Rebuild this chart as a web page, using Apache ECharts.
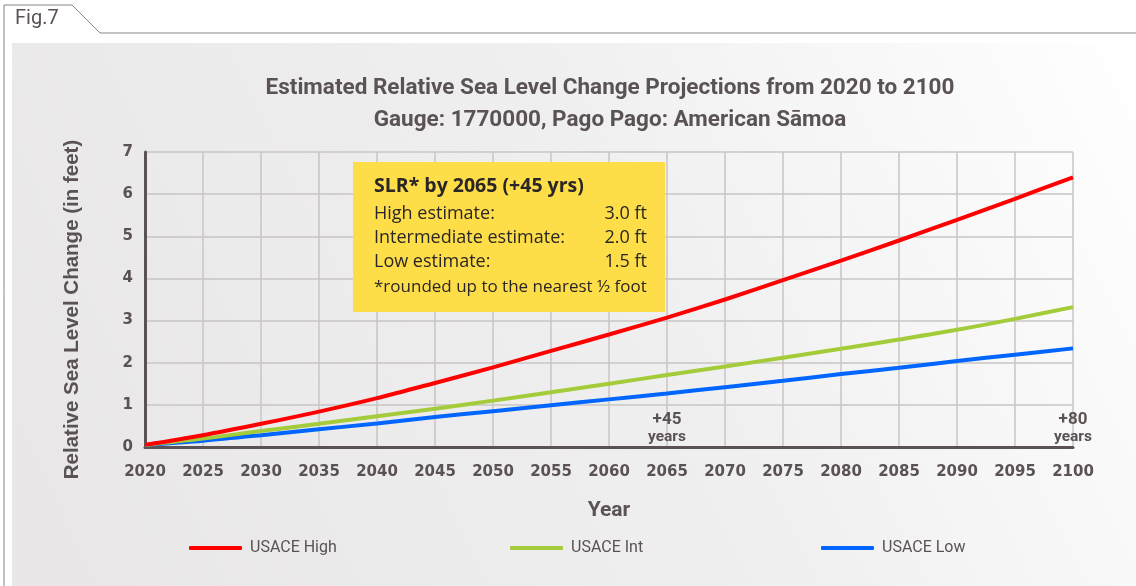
<!DOCTYPE html>
<html>
<head>
    <meta charset="UTF-8">
    <title>Sea Level Change Projections</title>
    <script src="https://cdn.jsdelivr.net/npm/echarts/dist/echarts.min.js"></script>
    <style>
        html, body { margin: 0; padding: 0; background: #fff; }
        #main { width: 1136px; height: 586px; }
    </style>
</head>
<body>
    <div id="main"></div>

    <script type="text/javascript">
        // years on the x axis
        const years = [2020, 2025, 2030, 2035, 2040, 2045, 2050, 2055, 2060,
                       2065, 2070, 2075, 2080, 2085, 2090, 2095, 2100];

        // values (feet)
        const usaceHigh = [0.05, 0.28, 0.55, 0.84, 1.16, 1.52, 1.89, 2.28, 2.67,
                           3.07, 3.5, 3.96, 4.42, 4.9, 5.39, 5.89, 6.4];
        const usaceInt  = [0.05, 0.2, 0.38, 0.55, 0.73, 0.91, 1.1, 1.3, 1.5,
                           1.71, 1.91, 2.12, 2.33, 2.55, 2.78, 3.04, 3.32];
        const usaceLow  = [0.05, 0.15, 0.28, 0.42, 0.56, 0.71, 0.85, 0.99, 1.13,
                           1.27, 1.42, 1.57, 1.73, 1.88, 2.04, 2.19, 2.34];

        const seriesNames = ['USACE High', 'USACE Int', 'USACE Low'];
        const seriesColors = ['#ff0000', '#a4cc3a', '#0066ff'];
        const legendLeft = [184, 505, 816];

        const boxLines = [
            ['High estimate:', '3.0 ft'],
            ['Intermediate estimate:', '2.0 ft'],
            ['Low estimate:', '1.5 ft']
        ];

        const textColor = '#5a5253';
        const font = 'Roboto';
        const tickFont = '"DejaVu Sans"';
        const boxFont = '"Open Sans"';

        var myChart = echarts.init(document.getElementById('main'));

        const toPairs = arr => arr.map((v, i) => [years[i], v]);

        // yellow note contents
        const boxChildren = [
            {
                type: 'rect', z: 100,
                shape: { x: 0, y: 0, width: 312, height: 150 },
                style: { fill: '#fede48' }
            },
            {
                type: 'text', x: 21, y: 24, z: 101,
                style: { text: 'SLR* by 2065 (+45 yrs)', fill: '#2a2526', font: 'bold 19.5px ' + boxFont, verticalAlign: 'middle' }
            }
        ];
        boxLines.forEach((row, i) => {
            boxChildren.push({
                type: 'text', x: 21, y: 52 + i * 24, z: 101,
                style: { text: row[0], fill: '#2a2526', font: '18px ' + boxFont, verticalAlign: 'middle' }
            });
            boxChildren.push({
                type: 'text', x: 294, y: 52 + i * 24, z: 101,
                style: { text: row[1], fill: '#2a2526', font: '18px ' + boxFont, align: 'right', verticalAlign: 'middle' }
            });
        });
        boxChildren.push({
            type: 'text', x: 21, y: 125, z: 101,
            style: { text: '*rounded up to the nearest ½ foot', fill: '#2a2526', font: '17px ' + boxFont, verticalAlign: 'middle' }
        });

        var option = {
            animation: false,
            backgroundColor: '#ffffff',
            title: {
                text: 'Estimated Relative Sea Level Change Projections from 2020 to 2100\nGauge: 1770000, Pago Pago: American Sāmoa',
                left: 605,
                top: 67,
                textAlign: 'center',
                textStyle: {
                    color: textColor,
                    fontFamily: font,
                    fontWeight: 'bold',
                    fontSize: 22.5,
                    lineHeight: 32
                }
            },
            grid: {
                left: 145,
                right: 63,
                top: 152,
                bottom: 139
            },
            legend: seriesNames.map((n, i) => ({
                data: [n],
                top: 535,
                left: legendLeft[i],
                itemWidth: 53,
                itemHeight: 4,
                itemGap: 0,
                icon: 'roundRect',
                textStyle: {
                    color: textColor,
                    fontFamily: font,
                    fontSize: 16,
                    padding: [0, 0, 0, 3]
                }
            })),
            xAxis: {
                type: 'value',
                min: 2020,
                max: 2100,
                interval: 5,
                name: 'Year',
                nameLocation: 'middle',
                nameGap: 53,
                nameTextStyle: {
                    color: textColor,
                    fontFamily: font,
                    fontWeight: 'bold',
                    fontSize: 21
                },
                axisLine: { lineStyle: { color: textColor, width: 3 } },
                axisTick: { show: false },
                axisLabel: {
                    color: textColor,
                    fontFamily: tickFont,
                    fontWeight: 'bold',
                    fontSize: 15,
                    margin: 18,
                    formatter: v => String(v)
                },
                splitLine: { show: true, lineStyle: { color: '#c9c5c5', width: 1.5 } }
            },
            yAxis: {
                type: 'value',
                min: 0,
                max: 7,
                interval: 1,
                name: 'Relative Sea Level Change (in feet)',
                nameLocation: 'middle',
                nameGap: 62,
                nameTextStyle: {
                    color: textColor,
                    fontFamily: '"Liberation Sans"',
                    fontWeight: 'bold',
                    fontSize: 20.5,
                    padding: [0, 20, 0, 0]
                },
                axisLine: { show: true, lineStyle: { color: textColor, width: 3 } },
                axisTick: { show: false },
                axisLabel: {
                    color: textColor,
                    fontFamily: tickFont,
                    fontWeight: 'bold',
                    fontSize: 15,
                    margin: 12
                },
                splitLine: { show: true, lineStyle: { color: '#c9c5c5', width: 1.5 } }
            },
            graphic: [
                // background panel with soft gradient
                {
                    type: 'rect', z: -10, silent: true,
                    shape: { x: 12, y: 43, width: 1124, height: 543 },
                    style: {
                        fill: new echarts.graphic.LinearGradient(0, 1, 1, 0, [
                            { offset: 0, color: '#e8e6e7' },
                            { offset: 0.55, color: '#f0efef' },
                            { offset: 1, color: '#ffffff' }
                        ])
                    }
                },
                // fig tab outline
                {
                    type: 'polyline', z: -5, silent: true,
                    shape: { points: [[4, 586], [4, 5], [72, 5], [100, 33], [1136, 33]] },
                    style: { stroke: '#8c8484', lineWidth: 1, fill: null }
                },
                {
                    type: 'text', left: 15, top: 9,
                    style: { text: 'Fig.7', fill: '#5a5253', font: '20px ' + font }
                },
                {
                    type: 'group', left: 353, top: 162, z: 100,
                    children: boxChildren
                }
            ],
            series: [usaceHigh, usaceInt, usaceLow].map((d, i) => ({
                name: seriesNames[i],
                type: 'line',
                smooth: 0.3,
                symbol: 'none',
                lineStyle: { width: 4, color: seriesColors[i] },
                itemStyle: { color: seriesColors[i] },
                data: toPairs(d),
                z: 10 - i,
                markPoint: i === 0 ? {
                    symbol: 'circle',
                    symbolSize: 0,
                    label: {
                        show: true,
                        color: textColor,
                        fontFamily: font,
                        fontWeight: 'bold',
                        lineHeight: 17,
                        formatter: p => '{a|' + p.name + '}\n{b|years}',
                        rich: {
                            a: { fontSize: 17, fontWeight: 'bold', color: textColor, fontFamily: font, align: 'center', lineHeight: 17 },
                            b: { fontSize: 15.5, fontWeight: 'bold', color: textColor, fontFamily: font, align: 'center', lineHeight: 17 }
                        }
                    },
                    data: [
                        { name: '+45', coord: [2065, 0.44] },
                        { name: '+80', coord: [2100, 0.44] }
                    ]
                } : undefined
            }))
        };

        myChart.setOption(option);
    </script>
</body>
</html>
